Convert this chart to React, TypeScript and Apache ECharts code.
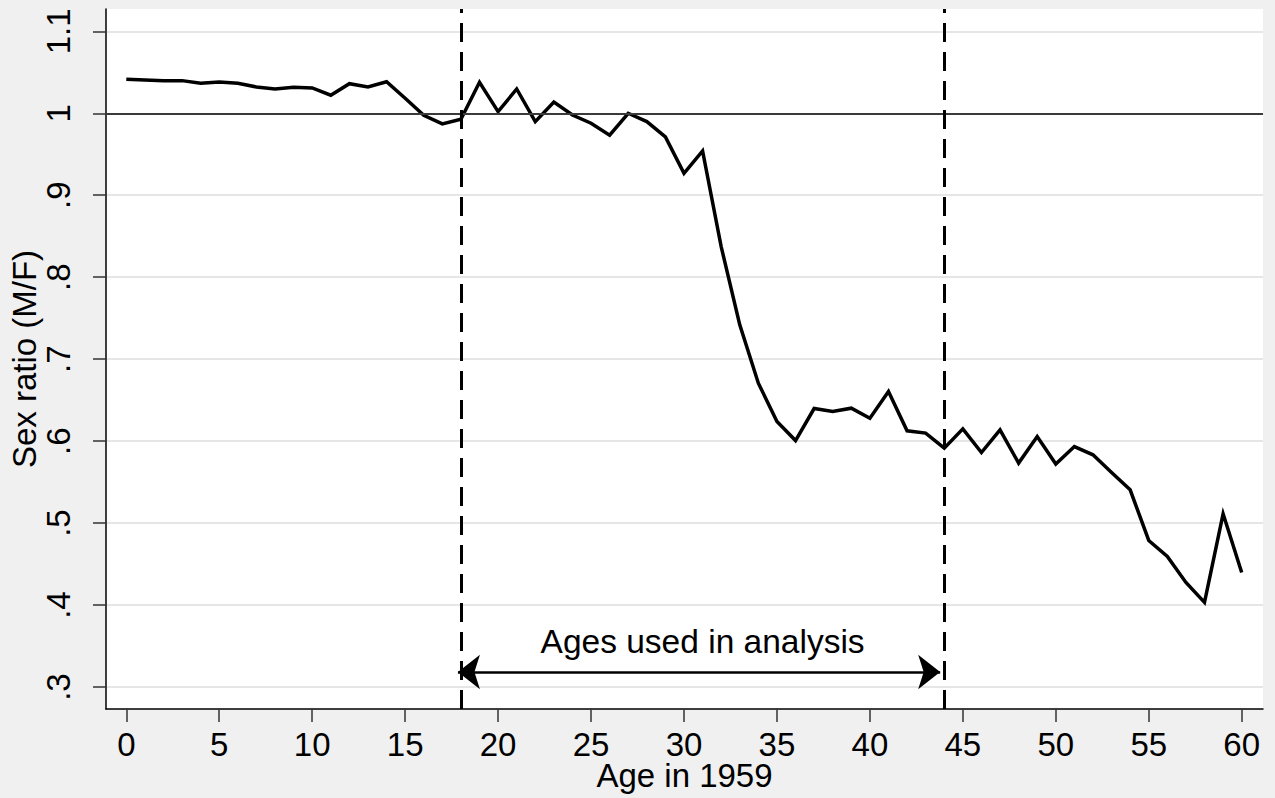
import React, { useEffect, useRef } from "react";
import * as echarts from "echarts";

// Age in 1959 (x) and sex ratio M/F (y)
const ages: number[] = [
  0, 1, 2, 3, 4, 5, 6, 7, 8, 9, 10, 11, 12, 13, 14, 15, 16, 17, 18, 19, 20,
  21, 22, 23, 24, 25, 26, 27, 28, 29, 30, 31, 32, 33, 34, 35, 36, 37, 38, 39, 40,
  41, 42, 43, 44, 45, 46, 47, 48, 49, 50, 51, 52, 53, 54, 55, 56, 57, 58, 59, 60,
];
const sexRatio: number[] = [
  1.0415, 1.0406, 1.0398, 1.0398, 1.0366, 1.0382, 1.0366, 1.0321, 1.0296, 1.0317,
  1.0309, 1.022, 1.0361, 1.0321, 1.0385, 1.0183, 0.9976, 0.987, 0.9927, 1.0378,
  1.002, 1.0296, 0.9898, 1.0138, 0.9979, 0.9878, 0.9732, 1.0, 0.9898, 0.9711,
  0.9268, 0.954, 0.8373, 0.7418, 0.6707, 0.6239, 0.6007, 0.6398, 0.6361, 0.6402,
  0.628, 0.6605, 0.6126, 0.6098, 0.5915, 0.615, 0.5861, 0.6138, 0.5732, 0.6056,
  0.572, 0.5934, 0.5833, 0.5617, 0.5406, 0.4788, 0.4593, 0.4276, 0.4032, 0.5113,
  0.4398,
];
const xTicks: number[] = [0, 5, 10, 15, 20, 25, 30, 35, 40, 45, 50, 55, 60];
const yTicks: number[] = [0.3, 0.4, 0.5, 0.6, 0.7, 0.8, 0.9, 1.0, 1.1];
const analysisRange: number[] = [18, 44];
const referenceRatio = 1;
const annotationText = "Ages used in analysis";
const annotationPos: number[] = [31.0, 0.3556];
const arrowStart: number[] = [17.84, 0.3183];
const arrowEnd: number[] = [43.78, 0.3183];

const FONT = "'Liberation Sans', Arial, Helvetica, sans-serif";

export default function App() {
  const ref = useRef<HTMLDivElement>(null);
  useEffect(() => {
    if (!ref.current) return;
    const chart = echarts.init(ref.current, null, { renderer: "svg" });
    const fmtY = (v: number) => {
      const s = String(+Number(v).toFixed(1));
      return s.replace(/^0\./, ".");
    };
    const lineData = ages.map((a, i) => [a, sexRatio[i]]);
    chart.setOption({
      animation: false,
      backgroundColor: "#f0f0f0",
      textStyle: { fontFamily: FONT },
      grid: {
        left: 106,
        right: 12,
        top: 9,
        bottom: 89,
        containLabel: false,
        outerBoundsMode: "none",
        show: true,
        backgroundColor: "#ffffff",
        borderWidth: 0,
      },
      xAxis: {
        type: "value",
        min: -1.092,
        max: 61.146,
        name: "Age in 1959",
        nameLocation: "middle",
        nameGap: 53,
        nameMoveOverlap: false,
        nameTextStyle: { fontSize: 33, lineHeight: 26, color: "#000", fontFamily: FONT },
        axisLine: { show: true, onZero: false, lineStyle: { color: "#000", width: 1.5 } },
        axisTick: {
          show: true,
          inside: false,
          length: 13,
          customValues: xTicks,
          lineStyle: { color: "#333", width: 1.5 },
        },
        axisLabel: {
          customValues: xTicks,
          fontSize: 33,
          lineHeight: 26,
          color: "#000",
          margin: 22,
          fontFamily: FONT,
        },
        splitLine: { show: false },
      },
      yAxis: {
        type: "value",
        min: 0.2732,
        max: 1.1272,
        splitNumber: 9,
        name: "Sex ratio (M/F)",
        nameLocation: "middle",
        nameGap: 65,
        nameMoveOverlap: false,
        nameRotate: 90,
        nameTextStyle: { fontSize: 33, color: "#000", fontFamily: FONT },
        axisLine: { show: true, onZero: false, lineStyle: { color: "#000", width: 1.5 } },
        axisTick: {
          show: true,
          inside: false,
          length: 13,
          customValues: yTicks,
          lineStyle: { color: "#333", width: 1.5 },
        },
        axisLabel: {
          customValues: yTicks,
          rotate: 90,
          fontSize: 33,
          color: "#000",
          margin: 31,
          fontFamily: FONT,
          formatter: fmtY,
        },
        splitLine: { show: true, lineStyle: { color: "#e6e6e6", width: 2 } },
      },
      series: [
        {
          type: "line",
          data: lineData,
          symbol: "none",
          silent: true,
          z: 2,
          lineStyle: { opacity: 0 },
          markLine: {
            silent: true,
            symbol: "none",
            label: { show: false },
            data: [
              {
                yAxis: referenceRatio,
                lineStyle: { color: "#3a3a3a", width: 2, type: "solid" },
              },
              ...analysisRange.map((a) => ({
                xAxis: a,
                lineStyle: { color: "#000", width: 3, type: [19, 10] },
              })),
              [
                {
                  coord: arrowStart,
                  symbol: "arrow",
                  symbolSize: [26, 22],
                },
                {
                  coord: arrowEnd,
                  symbol: "arrow",
                  symbolSize: [26, 22],
                  lineStyle: { color: "#000", width: 2.5, type: "solid" },
                },
              ],
            ],
            lineStyle: { color: "#000", width: 2.5, type: "solid" },
            itemStyle: { color: "#000" },
          },
          markPoint: {
            silent: true,
            symbol: "circle",
            symbolSize: 0,
            data: [{ coord: annotationPos }],
            label: {
              show: true,
              position: "inside",
              formatter: annotationText,
              fontSize: 33.5,
              color: "#000",
              fontFamily: FONT,
            },
          },
        },
        {
          type: "line",
          data: lineData,
          symbol: "none",
          silent: true,
          z: 3,
          lineStyle: { color: "#000", width: 3.5, join: "miter" },
        },
      ],
    });
    return () => chart.dispose();
  }, []);
  return (
    <div
      ref={ref}
      style={{ position: "fixed", left: 0, top: 0, width: 1275, height: 798 }}
    />
  );
}
